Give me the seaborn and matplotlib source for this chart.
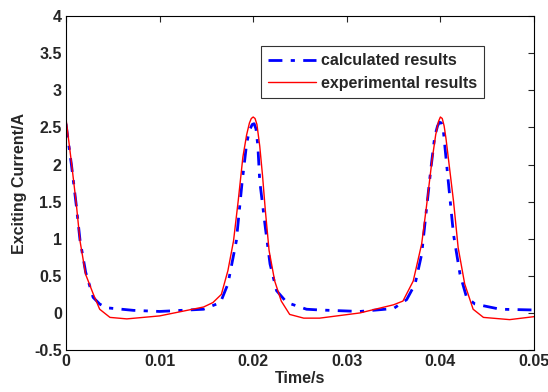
import numpy as np
import pandas as pd
import matplotlib
matplotlib.use("Agg")
import matplotlib.pyplot as plt
import seaborn as sns

# calculated results (blue, dash-dot)
calc_t = [0.0, 0.0006, 0.0011, 0.0015, 0.0021, 0.0029, 0.0036, 0.0043, 0.0072, 0.010,
          0.0147, 0.0165, 0.0173, 0.0182, 0.0188, 0.0193, 0.0196, 0.0199, 0.0201, 0.0203,
          0.0205, 0.0207, 0.0213, 0.0218, 0.0225, 0.0236, 0.0257, 0.0271, 0.0314, 0.035,
          0.0364, 0.0373, 0.0380, 0.0385, 0.0390, 0.0394, 0.0397, 0.0399, 0.0401, 0.0403,
          0.0405, 0.0408, 0.0414, 0.0421, 0.0428, 0.0437, 0.0464, 0.050]
calc_i = [2.55, 1.98, 1.45, 0.98, 0.55, 0.21, 0.12, 0.07, 0.035, 0.02,
          0.05, 0.14, 0.39, 0.97, 1.74, 2.28, 2.46, 2.54, 2.55, 2.48,
          2.25, 1.78, 1.15, 0.66, 0.30, 0.14, 0.05, 0.04, 0.02, 0.06,
          0.18, 0.39, 0.79, 1.38, 1.96, 2.38, 2.52, 2.57, 2.56, 2.48,
          2.22, 1.83, 1.06, 0.52, 0.21, 0.12, 0.05, 0.04]

# experimental results (red, solid)
exp_t = [0.0, 0.0006, 0.0011, 0.0015, 0.0021, 0.0029, 0.0036, 0.0047, 0.0065, 0.010,
         0.0147, 0.0157, 0.0166, 0.0173, 0.0179, 0.0184, 0.0189, 0.0193, 0.0196, 0.0198,
         0.0200, 0.0202, 0.0204, 0.0207, 0.0210, 0.0213, 0.0217, 0.0223, 0.0230, 0.0239,
         0.0254, 0.0271, 0.0314, 0.035, 0.036, 0.0371, 0.0380, 0.0385, 0.0391, 0.0395,
         0.0398, 0.0400, 0.0402, 0.0404, 0.0406, 0.0408, 0.0414, 0.0419, 0.0426, 0.0435,
         0.0446, 0.0474, 0.050]
exp_i = [2.62, 2.01, 1.47, 0.97, 0.52, 0.26, 0.05, -0.06, -0.08, -0.04,
         0.08, 0.14, 0.25, 0.57, 0.97, 1.51, 2.10, 2.40, 2.56, 2.62,
         2.64, 2.62, 2.54, 2.25, 1.85, 1.38, 0.84, 0.43, 0.16, -0.02,
         -0.07, -0.07, 0.00, 0.11, 0.16, 0.43, 0.93, 1.42, 2.05, 2.40,
         2.58, 2.64, 2.62, 2.52, 2.35, 2.14, 1.51, 0.88, 0.39, 0.05,
         -0.06, -0.09, -0.05]

x_ticks = [0, 0.01, 0.02, 0.03, 0.04, 0.05]
x_labels = ["0", "0.01", "0.02", "0.03", "0.04", "0.05"]
y_ticks = [-0.5, 0, 0.5, 1, 1.5, 2, 2.5, 3, 3.5, 4]
y_labels = ["-0.5", "0", "0.5", "1", "1.5", "2", "2.5", "3", "3.5", "4"]

sns.set_style("white")
plt.rcParams["font.family"] = ["Liberation Sans", "DejaVu Sans"]
plt.rcParams["font.weight"] = "bold"

df_calc = pd.DataFrame({"t": calc_t, "i": calc_i})
df_exp = pd.DataFrame({"t": exp_t, "i": exp_i})

fig = plt.figure(figsize=(5.48, 3.92), dpi=100)
ax = fig.add_axes([0.1204, 0.107, 0.854, 0.852])

sns.lineplot(data=df_calc, x="t", y="i", ax=ax, color="blue", linewidth=2.0,
             label="calculated results")
sns.lineplot(data=df_exp, x="t", y="i", ax=ax, color="red", linewidth=1.0,
             label="experimental results")
ax.lines[0].set_dashes([5, 3, 1.5, 3])
ax.lines[0].set_solid_joinstyle("round")
ax.lines[1].set_solid_joinstyle("round")

ax.set_xlim(0, 0.05)
ax.set_ylim(-0.5, 4)
ax.set_xticks(x_ticks)
ax.set_xticklabels(x_labels)
ax.set_yticks(y_ticks)
ax.set_yticklabels(y_labels)
ax.tick_params(direction="in", length=4, width=0.8, top=True, right=True,
               labelsize=11.5, pad=3)
for lab in ax.get_xticklabels() + ax.get_yticklabels():
    lab.set_fontweight("bold")
for s in ax.spines.values():
    s.set_color("black")
    s.set_linewidth(0.8)

ax.set_xlabel("Time/s", fontsize=11.5, fontweight="bold", labelpad=1)
ax.set_ylabel("Exciting Current/A", fontsize=11.5, fontweight="bold", labelpad=5)

leg = ax.legend(loc="upper right", bbox_to_anchor=(0.893, 0.910), fontsize=11.5,
                frameon=True, fancybox=False, handlelength=3.0, borderpad=0.45,
                labelspacing=0.45, handletextpad=0.3, borderaxespad=0)
leg.get_frame().set_edgecolor("black")
leg.get_frame().set_linewidth(0.8)
for txt in leg.get_texts():
    txt.set_fontweight("bold")

fig.savefig("out.png", dpi=100)
